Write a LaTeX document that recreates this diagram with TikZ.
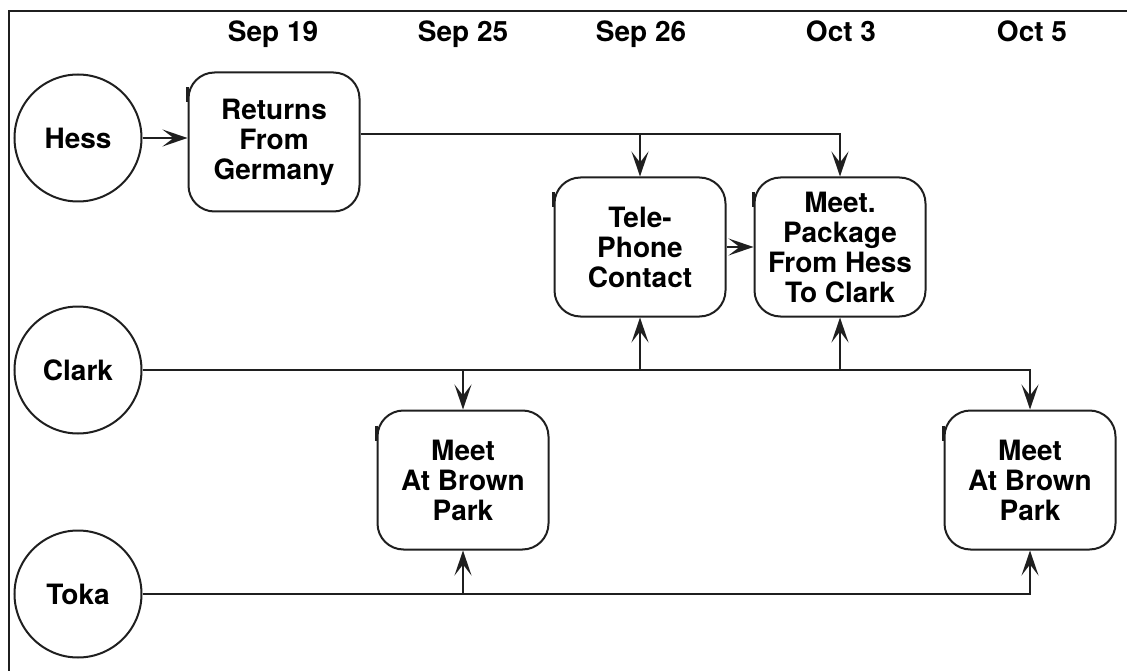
\documentclass[tikz,border=0pt]{standalone}
\usepackage{fontspec}
\setmainfont{TeX Gyre Heros}
\usetikzlibrary{arrows.meta}
\tikzset{
  ln/.style={line width=2pt, draw=black!88},
  arr/.style={ln, -{Stealth[length=25pt,width=17pt,inset=11pt]}},
  person/.style={circle, ln, minimum size=127pt, inner sep=0pt, font=\bfseries\fontsize{28}{30}\selectfont},
  event/.style={rectangle, rounded corners=26pt, ln, minimum width=171pt, minimum height=139pt, inner sep=0pt, align=center, font=\bfseries\fontsize{28}{30}\selectfont},
  date/.style={font=\bfseries\fontsize{28}{30}\selectfont, inner sep=0pt, anchor=base},
  tickmark/.style={line width=3pt, draw=black!88}
}
\begin{document}
\begin{tikzpicture}[x=1pt,y=-1pt]
\useasboundingbox (0,0) rectangle (1127,671);
% frame
\draw[ln] (1127,11) -- (9,11) -- (9,671);
% dates
\node[date] (d1) at (273,42) {Sep 19};
\node[date] (d2) at (463,42) {Sep 25};
\node[date] (d3) at (641,42) {Sep 26};
\node[date] (d4) at (841,42) {Oct 3};
\node[date] (d5) at (1032,42) {Oct 5};
% people
\node[person] (hess) at (78,138) {Hess};
\node[person] (clark) at (78,370) {Clark};
\node[person] (toka) at (78,594) {Toka};
% events
\node[event] (ret) at (274,142) {Returns\\From\\Germany};
\node[event] (tele) at (640,247) {Tele-\\Phone\\Contact};
\node[event] (meet) at (840,247) {Meet.\\Package\\From Hess\\To Clark};
\node[event] (bp1) at (463,480) {Meet\\At Brown\\Park};
\node[event] (bp2) at (1030,480) {Meet\\At Brown\\Park};
\foreach \n in {ret,tele,meet,bp1,bp2}
  \draw[tickmark] ([xshift=-0.5pt,yshift=-16pt]\n.north west) -- ([xshift=-0.5pt,yshift=-31pt]\n.north west);
% Hess
\draw[arr] (hess.east) -- (hess.east -| ret.west);
\coordinate (rj) at (ret.east |- 0,134);
\draw[arr] (rj) -| (meet.north);
\draw[arr] (rj -| tele.north) -- (tele.north);
\draw[arr] (tele.east) -- (meet.west);
% Clark
\draw[arr] (clark.east) -| (bp2.north);
\draw[arr] (clark.east -| bp1.north) -- (bp1.north);
\draw[arr] (clark.east -| tele.south) -- (tele.south);
\draw[arr] (clark.east -| meet.south) -- (meet.south);
% Toka
\draw[arr] (toka.east) -| (bp2.south);
\draw[arr] (toka.east -| bp1.south) -- (bp1.south);
\end{tikzpicture}
\end{document}
